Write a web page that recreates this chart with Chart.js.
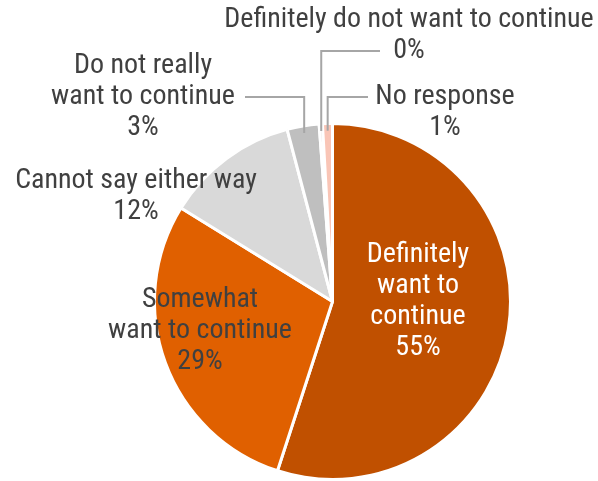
<!DOCTYPE html>
<html><head><meta charset="utf-8">
<script src="https://cdn.jsdelivr.net/npm/chart.js@4.4.1/dist/chart.umd.min.js"></script>
<style>html,body{margin:0;padding:0;background:#fff}#wrap{width:598px;height:481px}</style>
</head><body><div id="wrap"><canvas id="c" width="598" height="481"></canvas></div>
<script>
const categories = ["Definitely want to continue","Somewhat want to continue","Cannot say either way","Do not really want to continue","Definitely do not want to continue","No response"];
const values = [55.0, 28.8, 12.1, 2.9, 0.3, 0.9];
const percentLabels = ["55%","29%","12%","3%","0%","1%"];
const labelLines = [["Definitely","want to","continue"],["Somewhat","want to continue"],["Cannot say either way"],["Do not really","want to continue"],["Definitely do not want to continue"],["No response"]];
const colors = ["#C05000","#E06000","#D9D9D9","#BFBFBF","#A6A6A6","#F9C5B6"];

const FONT = '28px "Liberation Sans Narrow", "Roboto Condensed", "DejaVu Sans Condensed", sans-serif';
const LINE_H = 31;
// text layout: centre x, first line centre y, colour, leader (text-side x, which line)
const labelLayout = [
  {x:418, y:255, color:"#ffffff"},
  {x:200, y:300, color:"#404040"},
  {x:136, y:181, color:"#404040"},
  {x:143, y:66,  color:"#404040", leader:{hx:245, line:1}},
  {x:409, y:20,  color:"#404040", leader:{hx:380, line:1}},
  {x:445, y:97,  color:"#404040", leader:{hx:368, line:0}}
];

const labelPlugin = {
  id:'pieLabels',
  afterDatasetsDraw(chart){
    const ctx = chart.ctx;
    const meta = chart.getDatasetMeta(0);
    ctx.save();
    ctx.font = FONT;
    ctx.textAlign = 'center';
    ctx.textBaseline = 'middle';
    meta.data.forEach((arc, i) => {
      const L = labelLayout[i];
      const lines = labelLines[i].concat([percentLabels[i]]);
      if (L.leader) {
        const p = arc.getProps(['x','y','startAngle','endAngle','outerRadius'], true);
        const mid = (p.startAngle + p.endAngle) / 2;
        const r = p.outerRadius * 0.96;
        const ex = p.x + Math.cos(mid) * r;
        const ey = p.y + Math.sin(mid) * r;
        const ly = L.y + L.leader.line * LINE_H;
        ctx.beginPath();
        ctx.strokeStyle = '#A6A6A6';
        ctx.lineWidth = 2;
        ctx.moveTo(L.leader.hx, ly);
        ctx.lineTo(ex, ly);
        ctx.lineTo(ex, ey);
        ctx.stroke();
      }
      ctx.fillStyle = L.color;
      lines.forEach((t, k) => ctx.fillText(t, L.x, L.y + k * LINE_H));
    });
    ctx.restore();
  }
};

new Chart(document.getElementById('c'), {
  type:'pie',
  data:{
    labels: categories,
    datasets:[{
      data: values,
      backgroundColor: colors,
      borderColor:'#ffffff',
      borderWidth:3,
      hoverBorderWidth:3
    }]
  },
  options:{
    responsive:false,
    animation:false,
    devicePixelRatio:1,
    layout:{padding:{left:153, right:86, top:122, bottom:0}},
    plugins:{legend:{display:false}, tooltip:{enabled:false}}
  },
  plugins:[labelPlugin]
});
</script>
</body></html>
